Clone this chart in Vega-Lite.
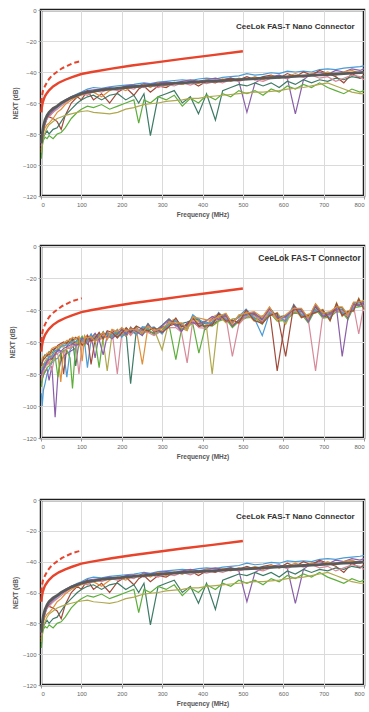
{
 "$schema": "https://vega.github.io/schema/vega-lite/v6.json",
 "background": "white",
 "padding": {"left": 8, "top": 5, "right": 2, "bottom": 4},
 "config": {
  "view": {"stroke": "#1e1e1e", "strokeWidth": 2.5},
  "axis": {"labelFont": "Liberation Sans", "labelFontSize": 6, "labelColor": "#666", "labelOverlap": false, "titleFont": "Liberation Sans", "titleFontSize": 6.5, "titleFontWeight": "bold", "titleColor": "#555", "gridColor": "#dadada", "domain": false, "tickColor": "#999", "tickSize": 3, "labelPadding": 2}
 },
 "datasets": {
  "lim": [
   {"f": 1, "v": -66}, {"f": 2, "v": -63}, {"f": 4, "v": -60}, {"f": 7, "v": -57.5}, {"f": 10, "v": -55.5}, {"f": 15, "v": -53.5}, {"f": 20, "v": -51.8}, {"f": 30, "v": -49.3}, {"f": 44, "v": -46.9}, {"f": 60, "v": -45}, {"f": 77, "v": -43.3}, {"f": 100, "v": -41.3}, {"f": 126, "v": -40}, {"f": 175, "v": -37.8}, {"f": 225, "v": -35.8}, {"f": 290, "v": -33.6}, {"f": 350, "v": -31.5}, {"f": 425, "v": -29.1}, {"f": 500, "v": -26.6}
  ],
  "limd": [
   {"f": 1, "v": -60}, {"f": 2, "v": -56}, {"f": 5, "v": -52}, {"f": 10, "v": -49}, {"f": 15, "v": -46.5}, {"f": 20, "v": -44.5}, {"f": 27, "v": -42.4}, {"f": 40, "v": -39.8}, {"f": 52, "v": -37.6}, {"f": 65, "v": -36}, {"f": 77, "v": -34.5}, {"f": 90, "v": -33.5}, {"f": 101, "v": -32.7}
  ],
  "nano": [
   {"f": 1, "t1": -88, "t2": -90, "t3": -86, "t4": -90, "t5": -94, "t6": -96, "t7": -92, "t8": -88, "avg": -86},
   {"f": 3, "t1": -80, "t2": -84, "t3": -80, "t4": -84, "t5": -86, "t6": -88, "t7": -86, "t8": -81, "avg": -80},
   {"f": 6, "t1": -76, "t2": -78, "t3": -75, "t4": -79, "t5": -82, "t6": -84, "t7": -82, "t8": -77, "avg": -75},
   {"f": 10, "t1": -73, "t2": -74, "t3": -71, "t4": -76, "t5": -80, "t6": -82, "t7": -79, "t8": -73, "avg": -71},
   {"f": 15, "t1": -70, "t2": -70, "t3": -68, "t4": -74, "t5": -78, "t6": -83, "t7": -76, "t8": -70, "avg": -68},
   {"f": 20, "t1": -68, "t2": -68, "t3": -69, "t4": -73, "t5": -80, "t6": -81, "t7": -74, "t8": -69, "avg": -66},
   {"f": 30, "t1": -66, "t2": -65, "t3": -70, "t4": -70, "t5": -77, "t6": -83, "t7": -72, "t8": -66, "avg": -63.5},
   {"f": 40, "t1": -63, "t2": -62, "t3": -72, "t4": -66, "t5": -76, "t6": -80, "t7": -70, "t8": -64, "avg": -62},
   {"f": 50, "t1": -61, "t2": -60, "t3": -77, "t4": -64, "t5": -72, "t6": -79, "t7": -69, "t8": -62, "avg": -60},
   {"f": 60, "t1": -59, "t2": -58, "t3": -68, "t4": -61, "t5": -68, "t6": -76, "t7": -68, "t8": -60, "avg": -58.5},
   {"f": 75, "t1": -56, "t2": -56, "t3": -60, "t4": -58, "t5": -64, "t6": -70, "t7": -67, "t8": -57, "avg": -56.5},
   {"f": 90, "t1": -54, "t2": -54.5, "t3": -56, "t4": -56, "t5": -60, "t6": -66, "t7": -66, "t8": -55, "avg": -55},
   {"f": 100, "t1": -53, "t2": -53.5, "t3": -58, "t4": -55, "t5": -58, "t6": -64, "t7": -65.5, "t8": -54, "avg": -54},
   {"f": 115, "t1": -51, "t2": -52, "t3": -52, "t4": -54, "t5": -56, "t6": -62, "t7": -65, "t8": -55, "avg": -53},
   {"f": 130, "t1": -50, "t2": -51.5, "t3": -58, "t4": -53, "t5": -55, "t6": -63, "t7": -66, "t8": -52, "avg": -52.5},
   {"f": 150, "t1": -50.5, "t2": -51, "t3": -54, "t4": -56, "t5": -58, "t6": -61, "t7": -66.5, "t8": -53, "avg": -51.5},
   {"f": 170, "t1": -49.5, "t2": -50, "t3": -60, "t4": -52, "t5": -55, "t6": -64, "t7": -67, "t8": -51, "avg": -51},
   {"f": 190, "t1": -49, "t2": -51, "t3": -53, "t4": -50, "t5": -54, "t6": -62, "t7": -66, "t8": -52, "avg": -50.5},
   {"f": 210, "t1": -48.5, "t2": -49, "t3": -50, "t4": -52, "t5": -58, "t6": -60, "t7": -64, "t8": -50, "avg": -50},
   {"f": 230, "t1": -48, "t2": -48.5, "t3": -55, "t4": -49, "t5": -55, "t6": -58, "t7": -63, "t8": -51, "avg": -49.5},
   {"f": 242, "t1": -47.5, "t2": -49, "t3": -51, "t4": -50, "t5": -60, "t6": -73, "t7": -62, "t8": -49, "avg": -49.2},
   {"f": 255, "t1": -47, "t2": -47.5, "t3": -49, "t4": -48, "t5": -54, "t6": -58, "t7": -61, "t8": -50, "avg": -49},
   {"f": 271, "t1": -47.5, "t2": -48, "t3": -53, "t4": -50, "t5": -81, "t6": -60, "t7": -60.5, "t8": -48.5, "avg": -48.6},
   {"f": 290, "t1": -46.5, "t2": -47, "t3": -49, "t4": -47, "t5": -56, "t6": -56, "t7": -60, "t8": -50, "avg": -48.2},
   {"f": 310, "t1": -46, "t2": -46.5, "t3": -50, "t4": -49, "t5": -54, "t6": -58, "t7": -59, "t8": -48, "avg": -47.8},
   {"f": 330, "t1": -45.5, "t2": -47, "t3": -47, "t4": -46.5, "t5": -52, "t6": -55, "t7": -58.5, "t8": -49, "avg": -47.4},
   {"f": 350, "t1": -45, "t2": -46, "t3": -48, "t4": -48, "t5": -60, "t6": -62, "t7": -58, "t8": -47, "avg": -47},
   {"f": 370, "t1": -45.5, "t2": -45, "t3": -46, "t4": -46, "t5": -56, "t6": -57, "t7": -57, "t8": -48.5, "avg": -46.7},
   {"f": 390, "t1": -44.5, "t2": -46, "t3": -49, "t4": -47.5, "t5": -67, "t6": -60, "t7": -57, "t8": -46.5, "avg": -46.4},
   {"f": 410, "t1": -44, "t2": -45, "t3": -46, "t4": -45, "t5": -54, "t6": -55, "t7": -56, "t8": -47.5, "avg": -46.1},
   {"f": 432, "t1": -44.5, "t2": -44, "t3": -47, "t4": -46.5, "t5": -71, "t6": -58, "t7": -55.5, "t8": -46, "avg": -45.8},
   {"f": 450, "t1": -43.5, "t2": -45, "t3": -45, "t4": -44.5, "t5": -52, "t6": -54, "t7": -55, "t8": -47, "avg": -45.5},
   {"f": 470, "t1": -43, "t2": -44, "t3": -44, "t4": -46, "t5": -50, "t6": -56, "t7": -54.5, "t8": -45, "avg": -45.2},
   {"f": 490, "t1": -42.5, "t2": -46, "t3": -45, "t4": -44, "t5": -48, "t6": -52, "t7": -54, "t8": -46, "avg": -44.9},
   {"f": 510, "t1": -41, "t2": -66, "t3": -43, "t4": -45, "t5": -49, "t6": -54, "t7": -53.5, "t8": -44.5, "avg": -44.6},
   {"f": 530, "t1": -42, "t2": -47, "t3": -45, "t4": -43, "t5": -47, "t6": -52, "t7": -53, "t8": -45, "avg": -44.3},
   {"f": 550, "t1": -41.5, "t2": -44, "t3": -43, "t4": -45, "t5": -49, "t6": -55, "t7": -53, "t8": -46, "avg": -44},
   {"f": 570, "t1": -40.5, "t2": -43, "t3": -42, "t4": -42.5, "t5": -47, "t6": -51, "t7": -52.5, "t8": -44, "avg": -43.7},
   {"f": 590, "t1": -41, "t2": -42, "t3": -44, "t4": -44, "t5": -50, "t6": -53, "t7": -52, "t8": -43, "avg": -43.4},
   {"f": 610, "t1": -39.5, "t2": -44, "t3": -41, "t4": -43, "t5": -46, "t6": -49, "t7": -51, "t8": -44.5, "avg": -43.1},
   {"f": 630, "t1": -40, "t2": -67, "t3": -43, "t4": -41, "t5": -48, "t6": -51, "t7": -50.5, "t8": -42, "avg": -42.8},
   {"f": 650, "t1": -39.5, "t2": -45, "t3": -40, "t4": -43, "t5": -45, "t6": -48, "t7": -50, "t8": -43.5, "avg": -42.5},
   {"f": 670, "t1": -40, "t2": -41, "t3": -42, "t4": -41, "t5": -47, "t6": -50, "t7": -49, "t8": -42, "avg": -42.2},
   {"f": 690, "t1": -38.5, "t2": -40, "t3": -39, "t4": -42, "t5": -45, "t6": -47, "t7": -48, "t8": -44, "avg": -41.9},
   {"f": 710, "t1": -38, "t2": -41.5, "t3": -41, "t4": -40, "t5": -46, "t6": -50, "t7": -47, "t8": -43, "avg": -41.6},
   {"f": 730, "t1": -38.5, "t2": -39, "t3": -43, "t4": -42, "t5": -44, "t6": -52, "t7": -49, "t8": -46, "avg": -41.3},
   {"f": 750, "t1": -37.5, "t2": -40, "t3": -47, "t4": -40, "t5": -45, "t6": -54, "t7": -51, "t8": -44, "avg": -41},
   {"f": 770, "t1": -37, "t2": -38, "t3": -41, "t4": -39, "t5": -43, "t6": -51, "t7": -53, "t8": -42, "avg": -40.7},
   {"f": 790, "t1": -36.5, "t2": -39, "t3": -44, "t4": -41, "t5": -44, "t6": -53, "t7": -54, "t8": -43, "avg": -40.4},
   {"f": 800, "t1": -36, "t2": -38, "t3": -42, "t4": -40, "t5": -43, "t6": -52, "t7": -54, "t8": -45, "avg": -40.2}
  ],
  "std": [
   {"f": 1, "a": -92, "b": -86, "c": -80, "d": -84, "e": -74, "g": -88, "h": -77, "i": -83, "j": -79, "k": -81, "l": -75, "m": -72},
   {"f": 3, "a": -100, "b": -83, "c": -78, "d": -80, "e": -72, "g": -84, "h": -74, "i": -81, "j": -77, "k": -78, "l": -73, "m": -70},
   {"f": 6, "a": -90, "b": -81, "c": -74, "d": -79, "e": -70, "g": -80, "h": -75, "i": -78, "j": -76, "k": -77, "l": -71, "m": -69},
   {"f": 10, "a": -86, "b": -78, "c": -73, "d": -75, "e": -68, "g": -79, "h": -72, "i": -76, "j": -73, "k": -75, "l": -70, "m": -69},
   {"f": 15, "a": -80, "b": -77, "c": -74, "d": -71, "e": -69, "g": -76, "h": -70, "i": -74, "j": -72, "k": -72, "l": -68, "m": -67},
   {"f": 20, "a": -77, "b": -84, "c": -69, "d": -74, "e": -66, "g": -75, "h": -70, "i": -72, "j": -69, "k": -71, "l": -68, "m": -67},
   {"f": 27, "a": -73, "b": -75, "c": -71, "d": -68, "e": -67, "g": -72, "h": -66, "i": -78, "j": -69, "k": -70, "l": -65, "m": -64},
   {"f": 35, "a": -71, "b": -107, "c": -67, "d": -67, "e": -64, "g": -69, "h": -66, "i": -68, "j": -65, "k": -68, "l": -64, "m": -63},
   {"f": 42, "a": -70, "b": -80, "c": -64, "d": -68, "e": -63, "g": -82, "h": -64, "i": -67, "j": -66, "k": -65, "l": -62, "m": -63},
   {"f": 49, "a": -67, "b": -72, "c": -66, "d": -85, "e": -62, "g": -68, "h": -63, "i": -66, "j": -63, "k": -66, "l": -61, "m": -62},
   {"f": 56, "a": -66, "b": -69, "c": -80, "d": -66, "e": -61, "g": -65, "h": -63, "i": -67, "j": -62, "k": -64, "l": -60, "m": -61},
   {"f": 64, "a": -82, "b": -67, "c": -63, "d": -64, "e": -60, "g": -65, "h": -61, "i": -64, "j": -62, "k": -63, "l": -61, "m": -59},
   {"f": 72, "a": -65, "b": -66, "c": -60, "d": -64, "e": -60, "g": -70, "h": -59, "i": -63, "j": -61, "k": -62, "l": -58, "m": -59},
   {"f": 78, "a": -63, "b": -65, "c": -61, "d": -61, "e": -58, "g": -89, "h": -60, "i": -63, "j": -59, "k": -61, "l": -59, "m": -57},
   {"f": 86, "a": -62, "b": -64, "c": -60, "d": -61, "e": -75, "g": -62, "h": -58, "i": -61, "j": -60, "k": -62, "l": -57, "m": -58},
   {"f": 94, "a": -61, "b": -58, "c": -62, "d": -57, "e": -60, "g": -59, "h": -62.5, "i": -80, "j": -57.5, "k": -61.5, "l": -58.5, "m": -56.5},
   {"f": 102, "a": -57, "b": -61, "c": -59.5, "d": -62, "e": -58, "g": -56.5, "h": -60, "i": -61.5, "j": -58.5, "k": -57.5, "l": -62, "m": -72},
   {"f": 108, "a": -60, "b": -57, "c": -61.5, "d": -58, "e": -59.5, "g": -62, "h": -56, "i": -57.5, "j": -60.5, "k": -58.5, "l": -61, "m": -56.5},
   {"f": 115, "a": -76, "b": -59.5, "c": -56.5, "d": -60.5, "e": -57, "g": -58, "h": -61, "i": -55.5, "j": -59, "k": -61.5, "l": -56, "m": -57.5},
   {"f": 124, "a": -58.5, "b": -55.5, "c": -74, "d": -57, "e": -60, "g": -56, "h": -58, "i": -60.5, "j": -55, "k": -57.5, "l": -59.5, "m": -56.5},
   {"f": 134, "a": -55, "b": -70, "c": -58, "d": -60, "e": -56.5, "g": -58.5, "h": -55.5, "i": -57, "j": -59.5, "k": -54.5, "l": -57.5, "m": -60},
   {"f": 144, "a": -58, "b": -55, "c": -59, "d": -54.5, "e": -57.5, "g": -76, "h": -56, "i": -59.5, "j": -55.5, "k": -58.5, "l": -54, "m": -57},
   {"f": 154, "a": -54.5, "b": -57.5, "c": -55, "d": -58.5, "e": -53.5, "g": -56.5, "h": -59, "i": -55.5, "j": -57, "k": -68, "l": -58, "m": -54},
   {"f": 164, "a": -57, "b": -54, "c": -57.5, "d": -53.5, "e": -58, "g": -55, "h": -78, "i": -57.5, "j": -54.5, "k": -56, "l": -53, "m": -58.5},
   {"f": 176, "a": -53.5, "b": -57, "c": -52.5, "d": -56, "e": -54.5, "g": -57.5, "h": -55, "i": -53, "j": -56.5, "k": -58, "l": -54, "m": -52},
   {"f": 189, "a": -56.5, "b": -53, "c": -55.5, "d": -52, "e": -57, "g": -54, "h": -56, "i": -80, "j": -52.5, "k": -55, "l": -57.5, "m": -53.5},
   {"f": 200, "a": -52.5, "b": -55.5, "c": -54, "d": -56.5, "e": -51.5, "g": -56, "h": -53, "i": -55, "j": -57, "k": -52, "l": -54.5, "m": -51},
   {"f": 211, "a": -55, "b": -52, "c": -56.5, "d": -53, "e": -54.5, "g": -51.5, "h": -56, "i": -52.5, "j": -54, "k": -55.5, "l": -51, "m": -53},
   {"f": 222, "a": -51.5, "b": -54.5, "c": -52, "d": -55.5, "e": -86, "g": -53.5, "h": -50.5, "i": -56, "j": -52.5, "k": -51, "l": -54, "m": -52},
   {"f": 236, "a": -54, "b": -51, "c": -55, "d": -52, "e": -53, "g": -50.5, "h": -54.5, "i": -51.5, "j": -55.5, "k": -53.5, "l": -50, "m": -52.5},
   {"f": 251, "a": -51.5, "b": -55, "c": -52.5, "d": -74, "e": -54, "g": -55.5, "h": -51, "i": -53.5, "j": -50.5, "k": -56, "l": -52, "m": -54.5},
   {"f": 265, "a": -52.5, "b": -49.5, "c": -53.5, "d": -50.5, "e": -48.5, "g": -52, "h": -50, "i": -54, "j": -51.5, "k": -49, "l": -53, "m": -50},
   {"f": 280, "a": -55, "b": -52.5, "c": -54.5, "d": -51.5, "e": -53.5, "g": -55.5, "h": -52, "i": -56, "j": -50.5, "k": -54, "l": -51, "m": -53},
   {"f": 300, "a": -50.5, "b": -53.5, "c": -51, "d": -54.5, "e": -49.5, "g": -52.5, "h": -65, "i": -53, "j": -55, "k": -50, "l": -54, "m": -51.5},
   {"f": 317, "a": -49.5, "b": -46.5, "c": -50, "d": -47.5, "e": -45.5, "g": -49, "h": -47, "i": -51, "j": -48.5, "k": -46, "l": -50.5, "m": -48},
   {"f": 334, "a": -46.5, "b": -50, "c": -48.5, "d": -45.5, "e": -49.5, "g": -71, "h": -46, "i": -51, "j": -47, "k": -49, "l": -45, "m": -48},
   {"f": 348, "a": -52.5, "b": -49.5, "c": -53, "d": -51.5, "e": -48.5, "g": -52, "h": -50, "i": -54, "j": -49, "k": -53.5, "l": -50.5, "m": -48},
   {"f": 362, "a": -48.5, "b": -52, "c": -49.5, "d": -53, "e": -47.5, "g": -50.5, "h": -52.5, "i": -73, "j": -51, "k": -48, "l": -49, "m": -51.5},
   {"f": 376, "a": -47, "b": -44.5, "c": -47.5, "d": -43.5, "e": -46, "g": -48.5, "h": -44, "i": -46.5, "j": -43, "k": -48, "l": -45, "m": -44.5},
   {"f": 391, "a": -49.5, "b": -46.5, "c": -50.5, "d": -47.5, "e": -45.5, "g": -67, "h": -49, "i": -51, "j": -46, "k": -48.5, "l": -50, "m": -45},
   {"f": 408, "a": -47.5, "b": -51, "c": -48, "d": -50.5, "e": -52, "g": -49.5, "h": -46.5, "i": -51.5, "j": -48.5, "k": -47, "l": -50, "m": -46},
   {"f": 424, "a": -48.5, "b": -45.5, "c": -49, "d": -44.5, "e": -47.5, "g": -50, "h": -80, "i": -46, "j": -48, "k": -44, "l": -49.5, "m": -46.5},
   {"f": 440, "a": -45, "b": -43, "c": -46.5, "d": -42.5, "e": -44.5, "g": -47, "h": -43.5, "i": -45.5, "j": -41.5, "k": -46, "l": -42, "m": -44},
   {"f": 458, "a": -43.5, "b": -46.5, "c": -44, "d": -47.5, "e": -42.5, "g": -45.5, "h": -48, "i": -44.5, "j": -46, "k": -43, "l": -47, "m": -42},
   {"f": 474, "a": -49.5, "b": -47, "c": -50.5, "d": -46, "e": -48.5, "g": -51, "h": -45.5, "i": -69, "j": -47.5, "k": -50, "l": -46.5, "m": -49},
   {"f": 490, "a": -47.5, "b": -44.5, "c": -46.5, "d": -48.5, "e": -43.5, "g": -47, "h": -45, "i": -49, "j": -44, "k": -46, "l": -48, "m": -43},
   {"f": 508, "a": -43.5, "b": -41, "c": -44.5, "d": -40.5, "e": -43, "g": -45, "h": -41.5, "i": -44, "j": -39.5, "k": -42.5, "l": -40, "m": -42},
   {"f": 528, "a": -42.5, "b": -45.5, "c": -43, "d": -46, "e": -41.5, "g": -44.5, "h": -47, "i": -43.5, "j": -45, "k": -42, "l": -46.5, "m": -41},
   {"f": 548, "a": -47.5, "b": -45, "c": -48, "d": -44, "e": -46.5, "g": -49, "h": -43.5, "i": -47, "j": -56, "k": -45.5, "l": -48.5, "m": -44.5},
   {"f": 566, "a": -39.5, "b": -42.5, "c": -40, "d": -43, "e": -38.5, "g": -41.5, "h": -44, "i": -40.5, "j": -42, "k": -39, "l": -43.5, "m": -38},
   {"f": 585, "a": -45.5, "b": -43, "c": -78, "d": -42.5, "e": -44.5, "g": -47, "h": -41.5, "i": -46, "j": -43.5, "k": -45, "l": -42, "m": -46.5},
   {"f": 606, "a": -44.5, "b": -47.5, "c": -45, "d": -48, "e": -43.5, "g": -46.5, "h": -49, "i": -45.5, "j": -47, "k": -44, "l": -69, "m": -43},
   {"f": 626, "a": -40.5, "b": -38, "c": -41.5, "d": -37.5, "e": -40, "g": -42, "h": -38.5, "i": -41, "j": -36.5, "k": -39.5, "l": -37, "m": -39},
   {"f": 645, "a": -40.5, "b": -43.5, "c": -41, "d": -44, "e": -39.5, "g": -42.5, "h": -45, "i": -41.5, "j": -43, "k": -40, "l": -44.5, "m": -39},
   {"f": 662, "a": -46.5, "b": -44, "c": -47, "d": -43, "e": -45.5, "g": -48, "h": -42.5, "i": -46, "j": -44.5, "k": -47.5, "l": -43.5, "m": -45},
   {"f": 680, "a": -37.5, "b": -40.5, "c": -38, "d": -41, "e": -36.5, "g": -39.5, "h": -42, "i": -78, "j": -40, "k": -37, "l": -41.5, "m": -36},
   {"f": 698, "a": -43.5, "b": -41, "c": -44.5, "d": -40.5, "e": -42.5, "g": -45, "h": -39.5, "i": -43, "j": -41.5, "k": -44, "l": -40, "m": -42},
   {"f": 716, "a": -42.5, "b": -45.5, "c": -43, "d": -46, "e": -41.5, "g": -44.5, "h": -47, "i": -43.5, "j": -45, "k": -42, "l": -46.5, "m": -41},
   {"f": 732, "a": -39.5, "b": -37, "c": -40, "d": -36.5, "e": -38.5, "g": -41, "h": -35.5, "i": -40.5, "j": -37.5, "k": -39, "l": -36, "m": -38},
   {"f": 746, "a": -39.5, "b": -42.5, "c": -40, "d": -43, "e": -38.5, "g": -41.5, "h": -44, "i": -40.5, "j": -42, "k": -69, "l": -43.5, "m": -38},
   {"f": 760, "a": -44.5, "b": -42, "c": -45, "d": -41.5, "e": -43.5, "g": -46, "h": -40.5, "i": -44, "j": -42.5, "k": -45.5, "l": -41, "m": -43},
   {"f": 774, "a": -36.5, "b": -39.5, "c": -37, "d": -40, "e": -35.5, "g": -38.5, "h": -41, "i": -37.5, "j": -39, "k": -36, "l": -40.5, "m": -35},
   {"f": 787, "a": -36.5, "b": -34, "c": -37, "d": -33.5, "e": -35.5, "g": -38, "h": -32.5, "i": -55, "j": -34.5, "k": -37.5, "l": -33, "m": -35},
   {"f": 800, "a": -35.5, "b": -38.5, "c": -36, "d": -39, "e": -34.5, "g": -37.5, "h": -40, "i": -36.5, "j": -38, "k": -35, "l": -39.5, "m": -34}
  ]
 },
 "spacing": 34,
 "vconcat": [
  {
   "spacing": 22,
   "vconcat": [
    {
     "width": 323, "height": 186,
     "encoding": {
      "x": {"field": "f", "type": "quantitative", "title": "Frequency (MHz)", "scale": {"domain": [0, 800], "nice": false}, "axis": {"values": [0, 100, 200, 300, 400, 500, 600, 700, 800], "titlePadding": 4, "labelOverlap": false}},
      "y": {"field": "v", "type": "quantitative", "title": "NEXT (dB)", "scale": {"domain": [-120, 0], "nice": false}, "axis": {"values": [0, -20, -40, -60, -80, -100, -120], "titlePadding": 4, "labelOverlap": false}}
     },
     "layer": [
      {"data": {"name": "nano"}, "transform": [{"fold": ["t1", "t2", "t3", "t4", "t5", "t6", "t7", "t8"], "as": ["s", "v"]}],
       "mark": {"type": "line", "strokeWidth": 1.2},
       "encoding": {
        "color": {"field": "s", "type": "nominal", "legend": null, "scale": {"domain": ["t1", "t2", "t3", "t4", "t5", "t6", "t7", "t8"], "range": ["#4a9bd6", "#8a5fa8", "#a04a3a", "#e0903a", "#3e7b66", "#5dae3a", "#b0a84e", "#d68a9a"]}}
       }},
      {"data": {"name": "nano"}, "transform": [{"fold": ["avg"], "as": ["s", "v"]}], "mark": {"type": "line", "color": "#5a5a5a", "strokeWidth": 2.8}},
      {"data": {"name": "lim"}, "mark": {"type": "line", "color": "#e8432b", "strokeWidth": 2.4}},
      {"data": {"name": "limd"}, "mark": {"type": "line", "color": "#e8432b", "strokeWidth": 2, "strokeDash": [5, 3]}},
      {"data": {"values": [{"label": "CeeLok FAS-T Nano Connector", "f": 777, "v": -11}]},
       "mark": {"type": "text", "align": "right", "baseline": "middle", "font": "Liberation Sans", "fontSize": 8, "fontWeight": "bold", "color": "#333"},
       "encoding": {"text": {"field": "label"}}}
     ]
    },
    {
     "width": 323, "height": 192,
     "encoding": {
      "x": {"field": "f", "type": "quantitative", "title": "Frequency (MHz)", "scale": {"domain": [0, 800], "nice": false}, "axis": {"values": [0, 100, 200, 300, 400, 500, 600, 700, 800], "titlePadding": 4, "labelOverlap": false}},
      "y": {"field": "v", "type": "quantitative", "title": "NEXT (dB)", "scale": {"domain": [-120, 0], "nice": false}, "axis": {"values": [0, -20, -40, -60, -80, -100, -120], "titlePadding": 7, "labelOverlap": false}}
     },
     "layer": [
      {"data": {"name": "std"}, "transform": [{"fold": ["a", "b", "c", "d", "e", "g", "h", "i", "j", "k", "l", "m"], "as": ["s", "v"]}],
       "mark": {"type": "line", "strokeWidth": 1.2},
       "encoding": {
        "color": {"field": "s", "type": "nominal", "legend": null, "scale": {"domain": ["a", "b", "c", "d", "e", "g", "h", "i", "j", "k", "l", "m"], "range": ["#2e7d32", "#7cc142", "#8e44ad", "#d63db5", "#29b6d6", "#222222", "#f07f2a", "#f2e03a", "#8a8a8a", "#a0522d", "#2a9d8f", "#3a6fc4"]}}
       }},
      {"data": {"name": "lim"}, "mark": {"type": "line", "color": "#e8432b", "strokeWidth": 2.4}},
      {"data": {"name": "limd"}, "mark": {"type": "line", "color": "#e8432b", "strokeWidth": 2, "strokeDash": [5, 3]}},
      {"data": {"values": [{"label": "CeeLok FAS-T Connector", "f": 792, "v": -7.5}]},
       "mark": {"type": "text", "align": "right", "baseline": "middle", "font": "Liberation Sans", "fontSize": 8.5, "fontWeight": "bold", "color": "#333"},
       "encoding": {"text": {"field": "label"}}}
     ]
    }
   ]
  },
  {
   "width": 323, "height": 185,
   "encoding": {
    "x": {"field": "f", "type": "quantitative", "title": "Frequency (MHz)", "scale": {"domain": [0, 800], "nice": false}, "axis": {"values": [0, 100, 200, 300, 400, 500, 600, 700, 800], "titlePadding": 4, "labelOverlap": false}},
    "y": {"field": "v", "type": "quantitative", "title": "NEXT (dB)", "scale": {"domain": [-120, 0], "nice": false}, "axis": {"values": [0, -20, -40, -60, -80, -100, -120], "titlePadding": 4, "labelOverlap": false}}
   },
   "layer": [
    {"data": {"name": "nano"}, "transform": [{"fold": ["t1", "t2", "t3", "t4", "t5", "t6", "t7", "t8"], "as": ["s", "v"]}],
     "mark": {"type": "line", "strokeWidth": 1.2},
     "encoding": {
      "color": {"field": "s", "type": "nominal", "legend": null, "scale": {"domain": ["t1", "t2", "t3", "t4", "t5", "t6", "t7", "t8"], "range": ["#4a9bd6", "#8a5fa8", "#a04a3a", "#e0903a", "#3e7b66", "#5dae3a", "#b0a84e", "#d68a9a"]}}
     }},
    {"data": {"name": "nano"}, "transform": [{"fold": ["avg"], "as": ["s", "v"]}], "mark": {"type": "line", "color": "#5a5a5a", "strokeWidth": 2.8}},
    {"data": {"name": "lim"}, "mark": {"type": "line", "color": "#e8432b", "strokeWidth": 2.4}},
    {"data": {"name": "limd"}, "mark": {"type": "line", "color": "#e8432b", "strokeWidth": 2, "strokeDash": [5, 3]}},
    {"data": {"values": [{"label": "CeeLok FAS-T Nano Connector", "f": 777, "v": -11}]},
     "mark": {"type": "text", "align": "right", "baseline": "middle", "font": "Liberation Sans", "fontSize": 8, "fontWeight": "bold", "color": "#333"},
     "encoding": {"text": {"field": "label"}}}
   ]
  }
 ]
}
